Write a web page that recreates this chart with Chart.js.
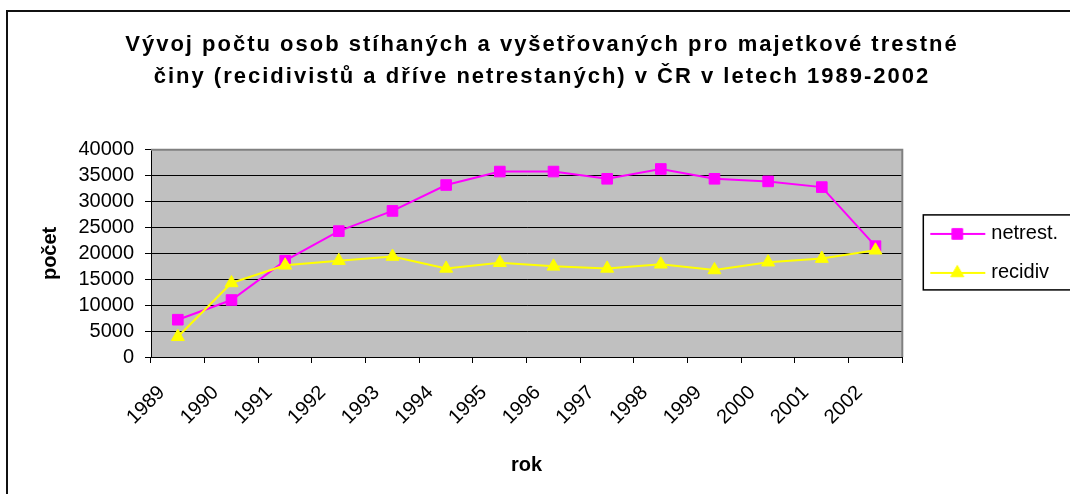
<!DOCTYPE html>
<html>
<head>
<meta charset="utf-8">
<title>Vývoj počtu osob stíhaných a vyšetřovaných</title>
<script src="https://cdn.jsdelivr.net/npm/chart.js@4.4.0/dist/chart.umd.min.js"></script>
<style>
  html, body { margin: 0; padding: 0; background: #fff; }
  #wrap { width: 1070px; height: 494px; }
</style>
</head>
<body>
<div id="wrap"><canvas id="myChart" width="1070" height="494"></canvas></div>
<script>
const years = ["1989", "1990", "1991", "1992", "1993", "1994", "1995",
               "1996", "1997", "1998", "1999", "2000", "2001", "2002"];
const netrest = [7200, 11000, 18600, 24300, 28200, 33200, 35800,
                 35800, 34400, 36300, 34400, 33900, 32800, 21400];
const recidiv = [3900, 14300, 17700, 18600, 19400, 17100, 18200,
                 17500, 17100, 17900, 16800, 18300, 19000, 20600];
const yTicks = [0, 5000, 10000, 15000, 20000, 25000, 30000, 35000, 40000];

const titleLines = [
  "Vývoj počtu osob stíhaných a vyšetřovaných pro majetkové trestné",
  "činy (recidivistů a dříve netrestaných) v ČR v letech 1989-2002"
];

Chart.defaults.font.family = '"Liberation Sans", Arial, sans-serif';
Chart.defaults.color = "#000";

// small picture for the legend: line with the marker in the middle
function legendKey(ds) {
  const c = document.createElement("canvas");
  c.width = 70;
  c.height = 20;
  const g = c.getContext("2d");
  g.strokeStyle = ds.borderColor;
  g.lineWidth = 2;
  g.beginPath();
  g.moveTo(14, 10);
  g.lineTo(69, 10);
  g.stroke();
  g.fillStyle = ds.backgroundColor;
  g.lineWidth = 1;
  Chart.helpers.drawPoint(g, {pointStyle: ds.pointStyle, radius: ds.pointRadius, borderWidth: 1, rotation: 0}, 41, 10);
  return c;
}

// white page, outer frame and grey plot area
const frame = {
  id: "frame",
  beforeLayout(chart) {
    // the title in the original is a bit spaced out
    const tb = chart.titleBlock;
    if (tb && !tb._spaced) {
      const draw = tb.draw.bind(tb);
      tb.draw = function () {
        const c = chart.ctx;
        const old = c.letterSpacing;
        c.letterSpacing = "2px";
        draw();
        c.letterSpacing = old || "0px";
      };
      tb._spaced = true;
    }
  },
  beforeDraw(chart) {
    const ctx = chart.ctx;
    const a = chart.chartArea;
    ctx.save();
    ctx.fillStyle = "#fff";
    ctx.fillRect(0, 0, chart.width, chart.height);
    ctx.strokeStyle = "#111";
    ctx.lineWidth = 2;
    ctx.strokeRect(7, 11, chart.width + 20, chart.height + 20);
    ctx.fillStyle = "#C0C0C0";
    ctx.fillRect(a.left, a.top, a.right - a.left, a.bottom - a.top);
    ctx.restore();
  },
  beforeDatasetsDraw(chart) {
    const ctx = chart.ctx;
    const a = chart.chartArea;
    ctx.save();
    ctx.strokeStyle = "#808080";
    ctx.lineWidth = 2;
    ctx.beginPath();
    ctx.moveTo(a.left, a.top);
    ctx.lineTo(a.right, a.top);
    ctx.lineTo(a.right, a.bottom);
    ctx.stroke();
    ctx.restore();
  },
  afterDraw(chart) {
    const lg = chart.legend;
    if (!lg || !lg.legendHitBoxes.length) return;
    const boxes = lg.legendHitBoxes;
    const first = boxes[0];
    const last = boxes[boxes.length - 1];
    const ctx = chart.ctx;
    ctx.save();
    ctx.strokeStyle = "#000";
    ctx.lineWidth = 1.5;
    ctx.strokeRect(first.left + 2, first.top - 9, chart.width, last.top + last.height + 16 - first.top);
    ctx.restore();
  }
};

const ctx = document.getElementById("myChart").getContext("2d");
const myChart = new Chart(ctx, {
  type: "line",
  plugins: [frame],
  data: {
    labels: years,
    datasets: [
      {
        label: "netrest.",
        data: netrest,
        borderColor: "#FF00FF",
        backgroundColor: "#FF00FF",
        borderWidth: 2,
        pointStyle: "rect",
        pointRadius: 7.5,
        pointBorderWidth: 1,
        tension: 0,
        order: 1
      },
      {
        label: "recidiv",
        data: recidiv,
        borderColor: "#FFFF00",
        backgroundColor: "#FFFF00",
        borderWidth: 2,
        pointStyle: "triangle",
        pointRadius: 7.5,
        pointBorderWidth: 1,
        tension: 0,
        order: 0
      }
    ]
  },
  options: {
    responsive: false,
    animation: false,
    layout: { padding: { left: 16, right: 2, top: 0, bottom: 0 } },
    plugins: {
      title: {
        display: true,
        text: titleLines,
        color: "#000",
        font: { size: 22, weight: "bold", lineHeight: 1.45 },
        padding: { top: 29, bottom: 57 }
      },
      legend: {
        position: "right",
        fullSize: false,
        align: "center",
        labels: {
          usePointStyle: true,
          pointStyleWidth: 60,
          padding: 19,
          color: "#000",
          font: { size: 20 },
          sort: (a, b) => a.datasetIndex - b.datasetIndex,
          generateLabels(chart) {
            const items = Chart.defaults.plugins.legend.labels.generateLabels(chart);
            items.forEach(it => {
              it.pointStyle = legendKey(chart.data.datasets[it.datasetIndex]);
            });
            return items;
          }
        }
      },
      tooltip: { enabled: false }
    },
    scales: {
      x: {
        offset: true,
        afterFit(scale) { scale.height = 137; },
        grid: {
          display: true,
          offset: true,
          drawOnChartArea: false,
          drawTicks: true,
          tickLength: 6,
          color: "#000"
        },
        border: { display: true, color: "#000", width: 1 },
        ticks: {
          autoSkip: false,
          maxRotation: 45,
          minRotation: 45,
          padding: 18,
          labelOffset: -16,
          color: "#000",
          font: { size: 20 }
        },
        title: {
          display: true,
          text: "rok",
          color: "#000",
          font: { size: 20, weight: "bold" },
          padding: { top: 0, bottom: 17 }
        }
      },
      y: {
        min: yTicks[0],
        max: yTicks[yTicks.length - 1],
        afterFit(scale) { scale.width = 135; },
        grid: {
          color: "#000",
          lineWidth: 1,
          drawTicks: true,
          tickLength: 6
        },
        border: { display: true, color: "#000", width: 1 },
        ticks: {
          stepSize: yTicks[1] - yTicks[0],
          autoSkip: false,
          padding: 11,
          color: "#000",
          font: { size: 20 },
          callback: v => String(v)
        },
        title: {
          display: true,
          text: "počet",
          color: "#000",
          font: { size: 20, weight: "bold" },
          padding: { top: 22, bottom: 0 }
        }
      }
    }
  }
});
</script>
</body>
</html>
